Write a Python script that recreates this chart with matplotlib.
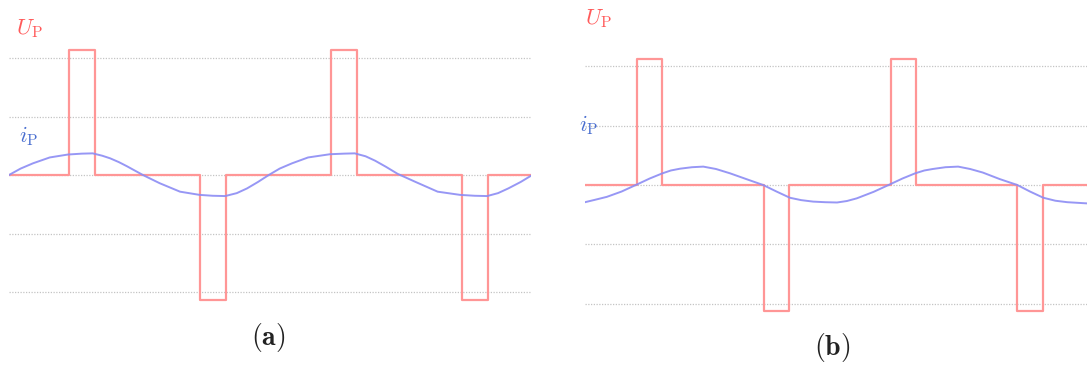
import numpy as np
import matplotlib
matplotlib.use("Agg")
import matplotlib.pyplot as plt

plt.rcParams['mathtext.fontset'] = 'cm'

W, H = 1087, 365

# pulse voltage U_P: pulse start phases (deg), pulse width, sign
amp = 2.13
width = 36
a_pulse_on = [82, 262, 442, 622]
b_pulse_on = [0, 180, 360, 540]
pulse_sign = [1, -1, 1, -1]

# current i_P (phase deg, value)
a_phase = [0, 16, 33, 56, 81, 100, 115, 128, 139, 151, 162, 184, 207, 235, 262, 280, 297,
           313, 327, 342, 357, 372, 389, 411, 441, 460, 475, 490, 503, 518, 534, 558, 589,
           620, 640, 657, 672, 686, 703, 719]
a_cur = [0, 0.11, 0.20, 0.30, 0.35, 0.365, 0.37, 0.33, 0.285, 0.22, 0.15, 0, -0.14, -0.285,
         -0.34, -0.355, -0.36, -0.31, -0.23, -0.12, 0, 0.11, 0.20, 0.30, 0.355, 0.365, 0.37,
         0.32, 0.245, 0.14, 0.02, -0.115, -0.285, -0.34, -0.355, -0.36, -0.31, -0.23, -0.12, 0]

b_phase = [-74, -60, -43, -22, 0, 18, 36, 48, 61, 78, 94, 112, 132, 155, 179, 198, 217,
           233, 250, 267, 284, 298, 312, 336, 359, 377, 395, 408, 420, 438, 456, 473, 491,
           515, 540, 558, 577, 594, 611, 639]
b_cur = [-0.29, -0.25, -0.20, -0.11, 0.01, 0.11, 0.197, 0.245, 0.275, 0.30, 0.31, 0.27,
         0.197, 0.10, 0, -0.11, -0.215, -0.255, -0.28, -0.29, -0.295, -0.27, -0.225, -0.115,
         0.01, 0.11, 0.197, 0.245, 0.27, 0.30, 0.31, 0.27, 0.21, 0.10, 0, -0.11, -0.215,
         -0.265, -0.29, -0.31]

grid_levels = [-2, -1, 0, 1, 2]

red = '#ff9696'
blue = '#8c8cf4'


def pulse_train(on, x0, x1):
    xs, ys = [x0], [0]
    for t, s in zip(on, pulse_sign):
        xs += [t, t, t + width, t + width]
        ys += [0, s * amp, s * amp, 0]
    xs.append(x1)
    ys.append(0)
    return xs, ys


def panel(left_px, right_px, zero_px, unit_px, x0, x1, on, ph, cur):
    fig = plt.gcf()
    ax = fig.add_axes([left_px / W, 0, (right_px - left_px) / W, 1])
    ax.set_xlim(x0, x1)
    ax.set_ylim((zero_px - H) / unit_px, zero_px / unit_px)
    ax.axis('off')
    for lv in grid_levels:
        ax.axhline(lv, color='#c4c4c4', lw=0.9, ls=(0, (1, 1.2)), zorder=1)
    xs, ys = pulse_train(on, x0, x1)
    ax.plot(xs, ys, color=red, lw=1.6, zorder=2)
    ax.plot(ph, cur, color=blue, lw=1.4, alpha=0.9, zorder=3)
    return ax


fig = plt.figure(figsize=(W / 100, H / 100), dpi=100)

panel(9, 531, 175, 58.5, 0, 717.3, a_pulse_on, a_phase, a_cur)
panel(585, 1087, 185, 59.3, -74, 639, b_pulse_on, b_phase, b_cur)

def ftext(x, y, s, **kw):
    fig.text(x / W, 1 - y / H, s, **kw)

ftext(16, 29, r'$U_\mathrm{P}$', color='#ff5a5a', fontsize=16, va='center', ha='left')
ftext(19, 136, r'$i_\mathrm{P}$', color='#4a6fd0', fontsize=16, va='center', ha='left')
ftext(585, 19, r'$U_\mathrm{P}$', color='#ff5a5a', fontsize=16, va='center', ha='left')
ftext(579, 125, r'$i_\mathrm{P}$', color='#4a6fd0', fontsize=16, va='center', ha='left')

ftext(268, 337, r'$\boldsymbol{(}\mathbf{a}\boldsymbol{)}$', fontsize=20, va='center',
      ha='center', color='#222222')
ftext(832, 348, r'$\boldsymbol{(}\mathbf{b}\boldsymbol{)}$', fontsize=20, va='center',
      ha='center', color='#222222')

fig.savefig('out.png', dpi=100)
